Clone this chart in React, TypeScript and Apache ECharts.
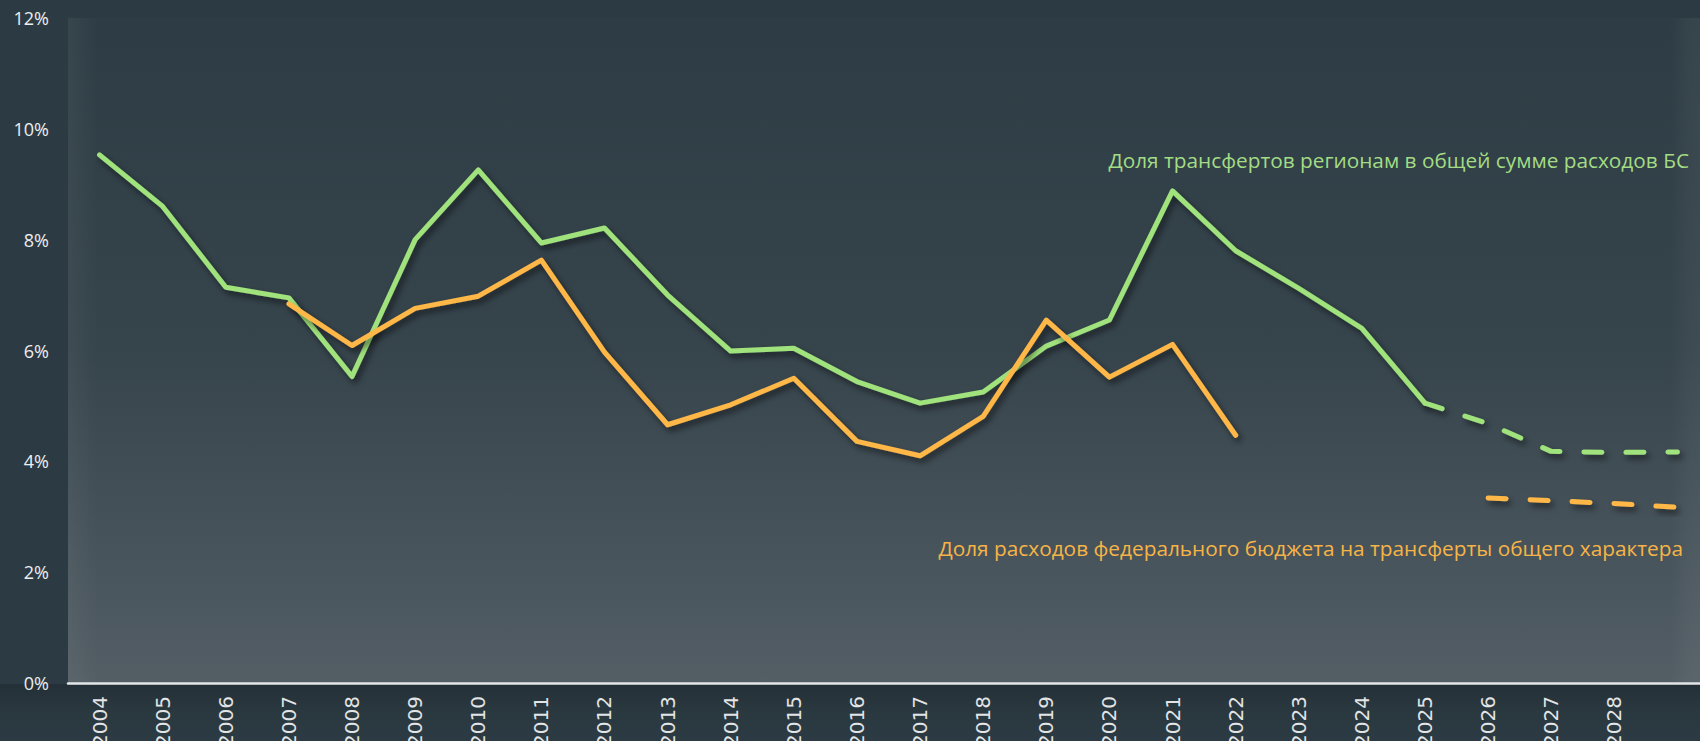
import React, { useEffect, useRef } from "react";
import * as echarts from "echarts";

const years = [
  "2004", "2005", "2006", "2007", "2008", "2009", "2010", "2011", "2012", "2013",
  "2014", "2015", "2016", "2017", "2018", "2019", "2020", "2021", "2022", "2023",
  "2024", "2025", "2026", "2027", "2028", "",
];

// Доля трансфертов регионам в общей сумме расходов БС (2004–2025)
const greenActual = [
  9.53, 8.6, 7.14, 6.95, 5.53, 8.0, 9.26, 7.94, 8.21, 7.0, 5.99, 6.04, 5.44, 5.05,
  5.25, 6.08, 6.55, 8.88, 7.8, 7.12, 6.4, 5.05,
];
// forecast 2025–2029
const greenForecast = [5.05, 4.68, 4.18, 4.16, 4.17];

// Доля расходов федерального бюджета на трансферты общего характера (2007–2022)
const orangeActual = [
  6.84, 6.09, 6.76, 6.98, 7.63, 5.97, 4.66, 5.02, 5.5, 4.36, 4.1, 4.81, 6.55, 5.52,
  6.11, 4.47,
];
// forecast 2026–2029
const orangeForecast = [3.34, 3.29, 3.24, 3.17];

const yTicks = [0, 2, 4, 6, 8, 10, 12];

const greenLabel = "Доля трансфертов регионам в общей сумме расходов БС";
const orangeLabel = "Доля расходов федерального бюджета на трансферты общего характера";

const GREEN = "#a0e27c";
const ORANGE = "#ffb747";

function place(values: number[], start: number): (number | null)[] {
  const out: (number | null)[] = years.map(() => null);
  values.forEach((v, i) => {
    out[start + i] = v;
  });
  return out;
}

export default function App() {
  const ref = useRef<HTMLDivElement>(null);

  useEffect(() => {
    if (!ref.current) return;
    const chart = echarts.init(ref.current, null, { renderer: "svg" });

    const shadow = {
      shadowColor: "rgba(0,0,0,0.55)",
      shadowBlur: 6,
      shadowOffsetX: 3,
      shadowOffsetY: 4,
    };

    const mkSeries = (name: string, data: (number | null)[], color: string, dashed: boolean) => ({
      name,
      type: "line",
      data,
      symbol: "none",
      connectNulls: false,
      z: 3,
      lineStyle: {
        color,
        width: 5,
        cap: "round",
        join: "round",
        type: dashed ? [18, 24] : "solid",
        ...shadow,
      },
    });

    chart.setOption({
      animation: false,
      backgroundColor: "#2c3b43",
      grid: {
        left: 68,
        right: -9,
        top: 18,
        bottom: 58,
        containLabel: false,
        outerBoundsMode: "none",
        show: true,
        borderWidth: 0,
        backgroundColor: new echarts.graphic.LinearGradient(0, 0, 0, 1, [
          { offset: 0, color: "#2e3d45" },
          { offset: 0.5, color: "#36444c" },
          { offset: 1, color: "#535e65" },
        ]),
      },
      graphic: [
        {
          type: "rect",
          left: 0,
          top: 684,
          z: -1,
          shape: { width: 1700, height: 57 },
          style: {
            fill: new echarts.graphic.LinearGradient(0, 0, 0, 1, [
              { offset: 0, color: "#243038" },
              { offset: 0.5, color: "#2a3840" },
              { offset: 1, color: "#2c3b43" },
            ]),
          },
        },
        {
          type: "rect",
          left: 68,
          top: 18,
          z: 1,
          silent: true,
          shape: { width: 30, height: 664 },
          style: {
            fill: new echarts.graphic.LinearGradient(0, 0, 1, 0, [
              { offset: 0, color: "rgba(255,255,255,0.045)" },
              { offset: 1, color: "rgba(255,255,255,0)" },
            ]),
          },
        },
        {
          type: "rect",
          left: 1670,
          top: 18,
          z: 1,
          silent: true,
          shape: { width: 30, height: 664 },
          style: {
            fill: new echarts.graphic.LinearGradient(0, 0, 1, 0, [
              { offset: 0, color: "rgba(255,255,255,0)" },
              { offset: 0.6, color: "rgba(255,255,255,0.035)" },
              { offset: 1, color: "rgba(255,255,255,0.045)" },
            ]),
          },
        },
        {
          type: "text",
          right: 11,
          top: 149,
          z: 10,
          style: {
            text: greenLabel,
            fill: "#a3dc84",
            font: '20.8px "Open Sans"',
          },
        },
        {
          type: "text",
          right: 17,
          top: 537,
          z: 10,
          style: {
            text: orangeLabel,
            fill: "#f7b446",
            font: '20.8px "Open Sans"',
          },
        },
      ],
      xAxis: {
        type: "category",
        data: years,
        boundaryGap: true,
        axisLine: { show: true, lineStyle: { color: "#e4e6e7", width: 2.5 } },
        axisTick: { show: false },
        splitLine: { show: false },
        axisLabel: {
          rotate: 90,
          margin: 13,
          color: "#e2e4e5",
          fontSize: 20,
          fontFamily: "DejaVu Sans",
          interval: 0,
        },
      },
      yAxis: {
        type: "value",
        min: yTicks[0],
        max: yTicks[yTicks.length - 1],
        interval: 2,
        axisLine: { show: false },
        axisTick: { show: false },
        splitLine: { show: false },
        axisLabel: {
          formatter: "{value}%",
          color: "#eceeef",
          fontSize: 18,
          fontFamily: "Open Sans",
          margin: 19,
        },
      },
      series: [
        mkSeries("green", place(greenActual, 0), GREEN, false),
        mkSeries("greenF", place(greenForecast, 21), GREEN, true),
        mkSeries("orange", place(orangeActual, 3), ORANGE, false),
        mkSeries("orangeF", place(orangeForecast, 22), ORANGE, true),
      ],
    });

    return () => chart.dispose();
  }, []);

  return (
    <div
      ref={ref}
      style={{ position: "fixed", left: 0, top: 0, width: 1700, height: 741, background: "#2c3b43" }}
    />
  );
}
